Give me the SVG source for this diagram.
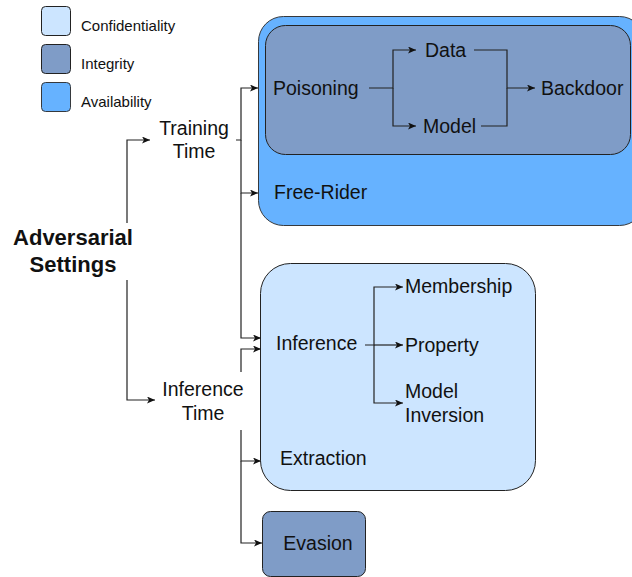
<svg xmlns="http://www.w3.org/2000/svg" width="632" height="577" viewBox="0 0 632 577">
<defs>
<marker id="arr" markerUnits="userSpaceOnUse" markerWidth="9" markerHeight="8" refX="8" refY="3.5" orient="auto">
<path d="M0,0 L8,3.5 L0,7 L2,3.5 z" fill="#111"/>
</marker>
<style>
text{font-family:"Liberation Sans",Arial,sans-serif;fill:#111}
.t{font-size:19.5px}
.lg{font-size:15px}
.b{font-size:22px;font-weight:bold}
.conf{fill:#cce5ff;stroke:#222;stroke-width:1}
.integ{fill:#7f9cc7;stroke:#222;stroke-width:1}
.avail{fill:#66b2ff;stroke:#36393d;stroke-width:1}
.c{fill:none;stroke:#222;stroke-width:1.2;marker-end:url(#arr)}
.n{fill:none;stroke:#222;stroke-width:1.2}
</style>
</defs>
<rect width="632" height="577" fill="#fff"/>
<g id="legend">
<rect class="conf" x="41.5" y="6.5" width="29" height="29" rx="4"/>
<text class="lg" x="81" y="31">Confidentiality</text>
<rect class="integ" x="41.5" y="44.5" width="29" height="29" rx="4"/>
<text class="lg" x="81" y="69">Integrity</text>
<rect class="avail" x="41.5" y="82.5" width="29" height="29" rx="4"/>
<text class="lg" x="81" y="107">Availability</text>
</g>
<g id="adversarial">
<text class="b" x="73" y="245" text-anchor="middle">Adversarial</text>
<text class="b" x="73" y="272" text-anchor="middle">Settings</text>
</g>
<g id="training-time">
<text class="t" x="194" y="135" text-anchor="middle">Training</text>
<text class="t" x="194" y="158" text-anchor="middle">Time</text>
</g>
<g id="inference-time">
<text class="t" x="203" y="396" text-anchor="middle">Inference</text>
<text class="t" x="203" y="420" text-anchor="middle">Time</text>
</g>
<g id="availability-box">
<rect class="avail" x="258.5" y="16.5" width="386" height="209" rx="25"/>
<text class="t" x="274" y="199">Free-Rider</text>
</g>
<g id="integrity-box">
<rect class="integ" x="265.5" y="25.5" width="365" height="129" rx="20"/>
<text class="t" x="273" y="95">Poisoning</text>
<text class="t" x="425" y="57">Data</text>
<text class="t" x="423" y="133">Model</text>
<text class="t" x="541" y="95">Backdoor</text>
</g>
<g id="confidentiality-box">
<rect class="conf" x="260.5" y="263.5" width="275" height="227" rx="30"/>
<text class="t" x="276" y="350">Inference</text>
<text class="t" x="405" y="293">Membership</text>
<text class="t" x="405" y="352">Property</text>
<text class="t" x="405" y="398">Model</text>
<text class="t" x="405" y="422">Inversion</text>
<text class="t" x="280" y="465">Extraction</text>
</g>
<g id="evasion">
<rect class="integ" x="262.5" y="511.5" width="103" height="65" rx="8"/>
<text class="t" x="318" y="550" text-anchor="middle">Evasion</text>
</g>
<g id="connectors">
<path class="c" d="M127,223 V140 H150"/>
<path class="c" d="M127,280 V400 H155"/>
<path class="c" d="M236,140 H241 V88 H258"/>
<path class="c" d="M241,140 V193 H258"/>
<path class="c" d="M241,193 V338 H261"/>
<path class="c" d="M241,372 V349 H261"/>
<path class="c" d="M241,430 V461 H261"/>
<path class="c" d="M241,461 V543 H262"/>
<path class="c" d="M369,88 H393 V50 H416"/>
<path class="c" d="M393,88 V126 H416"/>
<path class="c" d="M474,50 H507 V88 H535"/>
<path class="n" d="M481,126 H507 V88"/>
<path class="c" d="M365,345 H374 V287 H403"/>
<path class="c" d="M374,345 H403"/>
<path class="c" d="M374,345 V403 H403"/>
</g>
</svg>
